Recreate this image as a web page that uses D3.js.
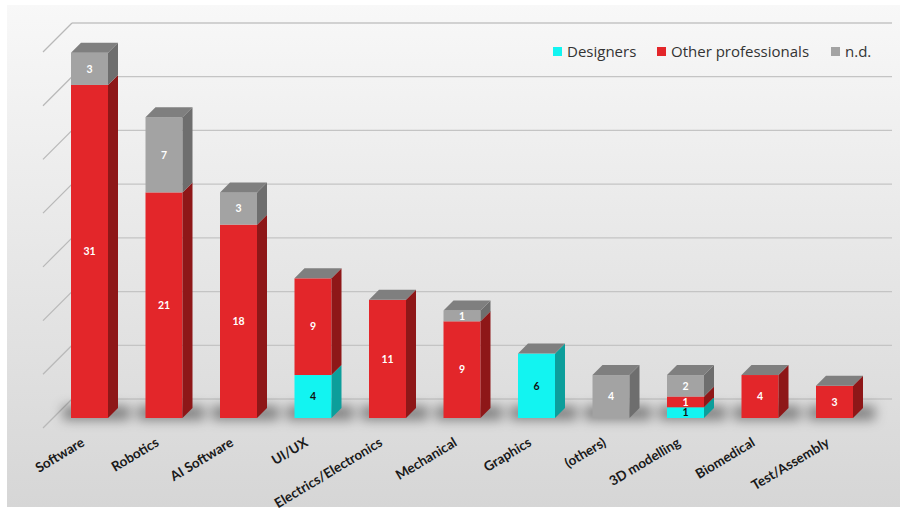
<!DOCTYPE html>
<html><head><meta charset="utf-8">
<script src="https://cdn.jsdelivr.net/npm/d3@7"></script>
<style>
html,body{margin:0;padding:0;background:#fff;}
svg{display:block;}
</style></head>
<body>
<svg id="chart" width="904" height="511"></svg>
<script>
const categories = ["Software","Robotics","AI Software","UI/UX","Electrics/Electronics","Mechanical","Graphics","(others)","3D modelling","Biomedical","Test/Assembly"];
const designers = [0,0,0,4,0,0,6,0,1,0,0];
const otherProfessionals = [31,21,18,9,11,9,0,0,1,4,3];
const notDeclared = [3,7,3,0,0,1,0,4,2,0,0];
const seriesNames = ["Designers","Other professionals","n.d."];
const yTicks = [0,5,10,15,20,25,30,35];

const svg = d3.select("#chart");
const defs = svg.append("defs");
const bg = defs.append("linearGradient").attr("id","bg").attr("x1",0).attr("y1",0).attr("x2",0).attr("y2",1);
bg.append("stop").attr("offset","0%").attr("stop-color","#f8f8f8");
bg.append("stop").attr("offset","100%").attr("stop-color","#d6d6d6");
defs.append("filter").attr("id","blur").attr("x","-50%").attr("y","-100%").attr("width","200%").attr("height","300%")
  .append("feGaussianBlur").attr("stdDeviation",6);

svg.append("rect").attr("x",7).attr("y",5).attr("width",893).attr("height",502).attr("fill","url(#bg)");

const y = d3.scaleLinear().domain([0,35]).range([418,42]);
const x = d3.scalePoint().domain(categories).range([89.5,834.5]);
const bw = 37, dep = 10;
const wallOff = 19, frontOff = 10;

const colors = {
  "Designers": {front:"#12f4f1", side:"#0c9e9b"},
  "Other professionals": {front:"#e3262a", side:"#8e1718"},
  "n.d.": {front:"#a3a3a3", side:"#6e6e6e"}
};
const topColor = "#7f7f7f";

// wall gridlines
const grid = svg.append("g");
yTicks.forEach(v => {
  const yb = y(v) - wallOff;
  grid.append("line").attr("x1",53+wallOff).attr("x2",892).attr("y1",yb).attr("y2",yb)
    .attr("stroke","#c4c4c4").attr("stroke-width",1.3);
  grid.append("line").attr("x1",53-frontOff).attr("y1",y(v)+frontOff).attr("x2",53+wallOff).attr("y2",yb)
    .attr("stroke","#b8b8b8").attr("stroke-width",1.2);
});

const rows = categories.map((c,i) => ({cat:c, vals:[designers[i], otherProfessionals[i], notDeclared[i]]}));

// shadows
const sh = svg.append("g").attr("filter","url(#blur)");
rows.forEach(r => {
  const cx = x(r.cat);
  sh.append("rect").attr("x",cx - bw/2 - 8).attr("y",y(0) - 12).attr("width",bw + 30).attr("height",14)
    .attr("fill","#000").attr("opacity",0.42);
});

// bars
const barsG = svg.append("g");
rows.forEach(r => {
  const left = x(r.cat) - bw/2;
  let acc = 0;
  const segs = [];
  r.vals.forEach((v,k) => {
    if (v > 0) { segs.push({name:seriesNames[k], v, y0:acc, y1:acc+v}); acc += v; }
  });
  const g = barsG.append("g");
  segs.forEach((s,idx) => {
    const c = colors[s.name];
    const yt = y(s.y1), yb = y(s.y0);
    g.append("rect").attr("x",left).attr("y",yt).attr("width",bw).attr("height",yb-yt).attr("fill",c.front);
    g.append("path").attr("d",`M${left+bw},${yb} L${left+bw+dep},${yb-dep} L${left+bw+dep},${yt-dep} L${left+bw},${yt} Z`).attr("fill",c.side);
    if (idx === segs.length-1) {
      g.append("path").attr("d",`M${left},${yt} L${left+dep},${yt-dep} L${left+bw+dep},${yt-dep} L${left+bw},${yt} Z`).attr("fill",topColor);
    }
  });
  segs.forEach(s => {
    const yt = y(s.y1), yb = y(s.y0);
    g.append("text").attr("x",left+bw/2).attr("y",(yt+yb)/2).attr("dy","0.36em")
      .attr("text-anchor","middle").attr("font-family","Lato, 'Open Sans', sans-serif")
      .attr("font-weight","bold").attr("font-size",10.5)
      .attr("fill", s.name === "Designers" ? "#111" : "#fff").text(s.v);
  });
});

// category axis
const axis = d3.axisBottom(x).tickSize(0).tickPadding(0);
const ax = svg.append("g").attr("transform","translate(0,441)").call(axis);
ax.select(".domain").remove();
ax.selectAll("text")
  .attr("font-family","Lato, 'Open Sans', sans-serif").attr("font-size",13.5).attr("font-weight","bold").attr("fill","#1a1a1a")
  .attr("text-anchor","end").attr("y",0).attr("x",0).attr("dy","0.35em")
  .attr("transform","translate(-7,0) rotate(-31)");

// legend
const legend = svg.append("g").attr("font-family","'Open Sans', sans-serif").attr("font-size",15).attr("fill","#333");
const legX = [553, 657, 831];
seriesNames.forEach((n,i) => {
  legend.append("rect").attr("x",legX[i]).attr("y",47).attr("width",9).attr("height",9).attr("fill",colors[n].front);
  legend.append("text").attr("x",legX[i]+14).attr("y",52).attr("dy","0.35em").text(n);
});
</script>
</body></html>
